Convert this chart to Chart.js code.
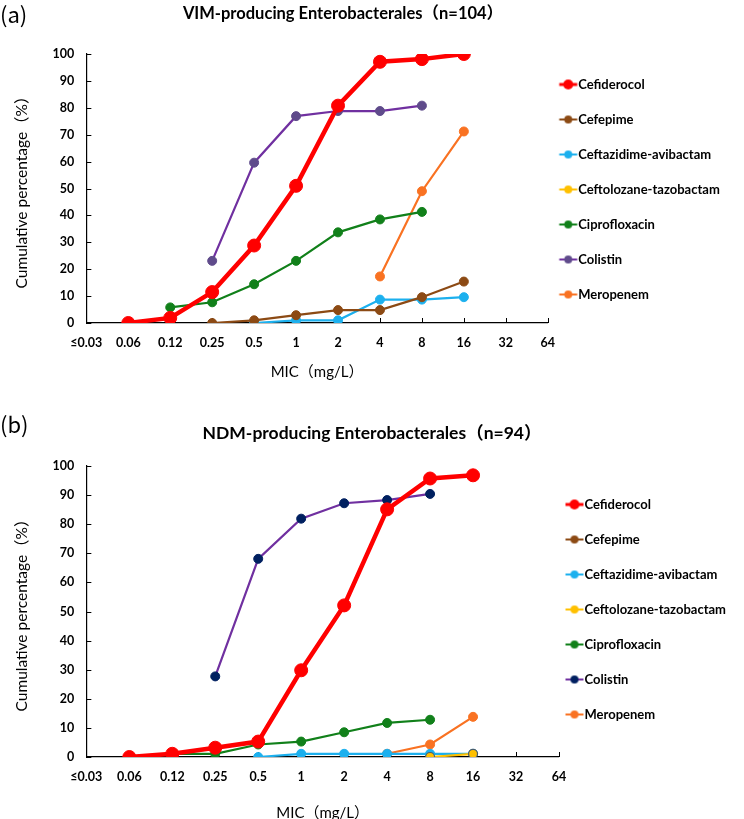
<!DOCTYPE html>
<html>
<head>
<meta charset="utf-8">
<script src="https://cdn.jsdelivr.net/npm/chart.js@4.4.1/dist/chart.umd.min.js"></script>
<style>
  html, body { margin: 0; background: #fff; overflow: hidden; }
  .panel { width: 744px; }
  canvas { display: block; }
</style>
</head>
<body>
<div class="panel"><canvas id="chartVim" width="744" height="410"></canvas></div>
<div class="panel"><canvas id="chartNdm" width="744" height="414"></canvas></div>
<script>
// MIC categories (x axis)
var micLabels = ['≤0.03', '0.06', '0.12', '0.25', '0.5', '1', '2', '4', '8', '16', '32', '64'];

var drugNames = ['Cefiderocol', 'Cefepime', 'Ceftazidime-avibactam', 'Ceftolozane-tazobactam',
    'Ciprofloxacin', 'Colistin', 'Meropenem'];

// (a) VIM-producing Enterobacterales, cumulative %
var vimCefiderocol = [null, 0, 1.9, 11.5, 28.8, 51.0, 80.8, 97.1, 98.1, 100, null, null];
var vimCefepime = [null, null, null, 0, 1.0, 2.9, 4.8, 4.8, 9.6, 15.4, null, null];
var vimCeftazidime = [null, null, null, null, 0, 1.0, 1.0, 8.7, 8.7, 9.6, null, null];
var vimCeftolozane = [null, null, null, null, null, null, null, null, null, null, null, null];
var vimCipro = [null, null, 5.8, 7.7, 14.4, 23.1, 33.7, 38.5, 41.3, null, null, null];
var vimColistin = [null, null, null, 23.1, 59.6, 76.9, 78.8, 78.8, 80.8, null, null, null];
var vimMeropenem = [null, null, null, null, null, null, null, 17.3, 49.0, 71.2, null, null];

// (b) NDM-producing Enterobacterales, cumulative %
var ndmCefiderocol = [null, 0, 1.1, 3.2, 5.3, 29.8, 52.1, 85.1, 95.7, 96.8, null, null];
var ndmCefepime = [null, null, null, null, null, null, null, null, null, null, null, null];
var ndmCeftazidime = [null, null, null, null, 0, 1.1, 1.1, 1.1, 1.1, 1.1, null, null];
var ndmCeftolozane = [null, null, null, null, null, null, null, null, 0, 1.1, null, null];
var ndmCipro = [null, null, 1.1, 1.1, 4.3, 5.3, 8.5, 11.7, 12.8, null, null, null];
var ndmColistin = [null, null, null, 27.7, 68.1, 81.9, 87.2, 88.3, 90.4, null, null, null];
var ndmMeropenem = [null, null, null, null, null, null, null, 1.1, 4.3, 13.8, null, null];

var yTicks = [0, 10, 20, 30, 40, 50, 60, 70, 80, 90, 100];

// couleurs des lignes
var lineColors = ['#ff0000', '#8c4a14', '#1cb0ee', '#ffc000', '#11801a', '#7030a0', '#f97222'];

Chart.defaults.font.family = "Lato, 'Noto Sans CJK JP', sans-serif";
Chart.defaults.color = '#000';

var LEG_FONT = 13;

// petit dessin ligne + rond pour la legende (box = largeur de la case)
function legendMark(line, fill, r, box) {
    var c = document.createElement('canvas');
    c.width = 40;
    c.height = 14;
    var g = c.getContext('2d');
    var mid = c.width / 2;
    var start = mid + box / 2 + LEG_FONT / 2 - 19;
    var end = mid + box / 2 + LEG_FONT / 2 - 1;
    g.strokeStyle = line;
    g.lineWidth = r > 4 ? 3 : 2;
    g.beginPath();
    g.moveTo(start, 7);
    g.lineTo(end, 7);
    g.stroke();
    g.fillStyle = fill;
    g.beginPath();
    g.arc((start + end) / 2, 7, r, 0, Math.PI * 2);
    g.fill();
    return c;
}

// titre + lettre du panneau
var headingPlugin = {
    id: 'heading',
    afterDraw: function(chart, args, opts) {
        var ctx = chart.ctx;
        ctx.save();
        ctx.fillStyle = '#000';
        ctx.textBaseline = 'middle';
        ctx.textAlign = 'left';
        ctx.font = "22px 'Noto Sans CJK JP', sans-serif";
        ctx.fillText(opts.panel, 0, opts.panelY);
        ctx.textAlign = 'center';
        ctx.font = "bold " + opts.size + "px Lato, 'Noto Sans CJK JP', sans-serif";
        ctx.fillText(opts.text, opts.x, opts.y);
        ctx.restore();
    }
};

// petites graduations vers l'interieur comme dans Excel
var innerTicksPlugin = {
    id: 'innerTicks',
    beforeDatasetsDraw: function(chart) {
        var ctx = chart.ctx;
        var x = chart.scales.x;
        var y = chart.scales.y;
        ctx.save();
        ctx.strokeStyle = '#000';
        ctx.lineWidth = 1;
        ctx.beginPath();
        for (var i = 0; i < x.ticks.length; i++) {
            var px = Math.round(x.getPixelForTick(i)) + 0.5;
            ctx.moveTo(px, y.bottom);
            ctx.lineTo(px, y.bottom - 5);
        }
        for (var j = 0; j < y.ticks.length; j++) {
            var py = Math.round(y.getPixelForTick(j)) + 0.5;
            ctx.moveTo(x.left, py);
            ctx.lineTo(x.left + 5, py);
        }
        ctx.stroke();
        ctx.restore();
    }
};

function buildDatasets(series, colistinPoint, yellowBorder) {
    var sets = [];
    for (var i = 0; i < series.length; i++) {
        var big = i === 0;
        var pt = lineColors[i];
        if (i === 5) pt = colistinPoint;
        var ds = {
            label: drugNames[i],
            data: series[i],
            borderColor: lineColors[i],
            backgroundColor: pt,
            pointBackgroundColor: pt,
            pointBorderColor: pt,
            pointBorderWidth: 1,
            borderWidth: big ? 4.5 : 2.2,
            pointRadius: big ? 6.5 : 4.5,
            pointHoverRadius: big ? 6.5 : 4.5,
            tension: 0,
            order: big ? 0 : (i === 3 ? 1 : 2)
        };
        if (i === 3 && yellowBorder) {
            ds.pointBorderColor = '#4b5d6b';
            ds.pointBorderWidth = 1.2;
        }
        sets.push(ds);
    }
    return sets;
}

function makeChart(id, series, colistinPoint, yellowBorder, cfg) {
    var marks = [];
    for (var i = 0; i < drugNames.length; i++) {
        marks.push(legendMark(lineColors[i], i === 5 ? colistinPoint : lineColors[i], i === 0 ? 5 : 4, cfg.legBox));
    }
    return new Chart(document.getElementById(id), {
        type: 'line',
        data: {
            labels: micLabels,
            datasets: buildDatasets(series, colistinPoint, yellowBorder)
        },
        plugins: [headingPlugin, innerTicksPlugin],
        options: {
            responsive: false,
            animation: false,
            layout: {
                padding: { top: cfg.top, left: 13, right: cfg.right, bottom: cfg.bottom }
            },
            scales: {
                x: {
                    offset: false,
                    grid: { display: true, drawOnChartArea: false, drawTicks: false },
                    border: { color: '#000', width: 1.2 },
                    ticks: { padding: 12, autoSkip: false, maxRotation: 0,
                        font: { size: 12.5, weight: 'bold' } },
                    title: { display: true, text: 'MIC（mg/L）', font: { size: 15 },
                        padding: { top: cfg.xTitleTop, bottom: cfg.xTitleBottom } }
                },
                y: {
                    min: 0,
                    max: 100,
                    afterBuildTicks: function(axis) {
                        axis.ticks = yTicks.map(function(v) { return { value: v }; });
                    },
                    grid: { display: true, drawOnChartArea: false, drawTicks: false },
                    border: { color: '#000', width: 1.2 },
                    ticks: { padding: 12, font: { size: 12.5, weight: 'bold' } },
                    title: { display: true, text: 'Cumulative percentage（%）', font: { size: 15.5 },
                        padding: { top: 0, bottom: 9 } }
                }
            },
            plugins: {
                heading: cfg.heading,
                tooltip: { enabled: false },
                legend: {
                    position: 'right',
                    align: cfg.legAlign,
                    fullSize: false,
                    labels: {
                        usePointStyle: true,
                        pointStyleWidth: cfg.legBox,
                        padding: cfg.legPad,
                        color: '#000',
                        font: { size: LEG_FONT, weight: 'bold', lineHeight: (35 - cfg.legPad) + 'px' },
                        sort: function(a, b) { return a.datasetIndex - b.datasetIndex; },
                        generateLabels: function(chart) {
                            var items = Chart.defaults.plugins.legend.labels.generateLabels(chart);
                            items.forEach(function(it) {
                                it.pointStyle = marks[it.datasetIndex];
                                it.fontColor = '#000';
                                // texte en tableau : la hauteur de ligne donne l'ecart entre items
                                it.text = [it.text];
                            });
                            return items;
                        }
                    }
                }
            }
        }
    });
}

makeChart('chartVim',
    [vimCefiderocol, vimCefepime, vimCeftazidime, vimCeftolozane, vimCipro, vimColistin, vimMeropenem],
    '#5f4b8b', false,
    {
        top: 54, bottom: 25, right: 18, xTitleTop: 1, xTitleBottom: 4,
        legPad: 18, legBox: 6, legAlign: 'end',
        heading: { panel: '(a)', panelY: 15, text: 'VIM-producing Enterobacterales（n=104）', x: 343, y: 14, size: 16.5 }
    });

makeChart('chartNdm',
    [ndmCefiderocol, ndmCefepime, ndmCeftazidime, ndmCeftolozane, ndmCipro, ndmColistin, ndmMeropenem],
    '#002060', true,
    {
        top: 56, bottom: 0, right: 8, xTitleTop: 8, xTitleBottom: 2,
        legPad: 18, legBox: 1, legAlign: 'center',
        heading: { panel: '(b)', panelY: 15, text: 'NDM-producing Enterobacterales（n=94）', x: 372, y: 23, size: 17.5 }
    });
</script>
</body>
</html>
